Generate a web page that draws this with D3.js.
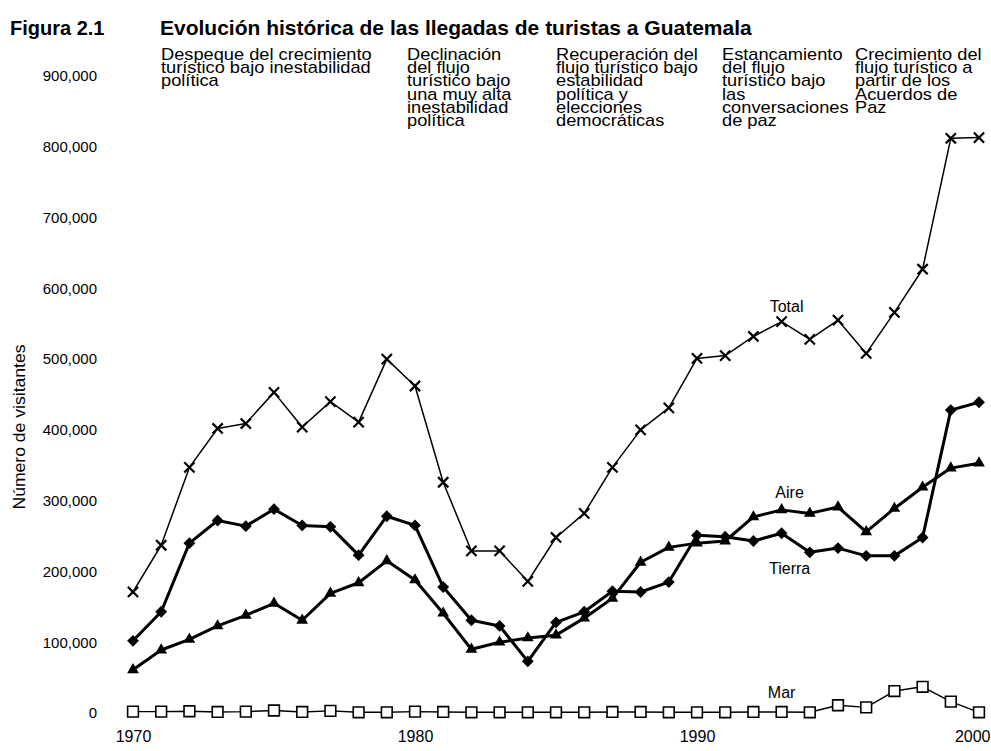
<!DOCTYPE html>
<html>
<head>
<meta charset="utf-8">
<script src="https://cdn.jsdelivr.net/npm/d3@7"></script>
<style>
  body { margin: 0; background: #fff; }
  svg text { font-family: "Liberation Sans", Arial, sans-serif; fill: #000; }
</style>
</head>
<body>
<div id="svganchor"></div>
<script>
/*
------------------------
DATA: arrivals by year (visitors)
------------------------
*/
var years = [1970, 1971, 1972, 1973, 1974, 1975, 1976, 1977, 1978, 1979,
  1980, 1981, 1982, 1983, 1984, 1985, 1986, 1987, 1988, 1989,
  1990, 1991, 1992, 1993, 1994, 1995, 1996, 1997, 1998, 1999, 2000];

var total = [171000, 237000, 347000, 402000, 409000, 453000, 404000, 440000, 411000, 500000,
  462000, 326000, 229000, 229000, 186000, 248000, 282000, 347000, 400000, 431000,
  501000, 505000, 532000, 553000, 528000, 555000, 508000, 566000, 627000, 812000, 813000];

var aire = [61000, 89000, 104000, 123000, 138000, 155000, 131000, 169000, 184000, 215000,
  188000, 141000, 90000, 100000, 106000, 110000, 134000, 162000, 213000, 234000,
  240000, 243000, 277000, 287000, 282000, 291000, 256000, 289000, 319000, 346000, 353000];

var tierra = [102000, 143000, 240000, 272000, 264000, 288000, 265000, 263000, 223000, 278000,
  265000, 178000, 131000, 123000, 73000, 128000, 143000, 172000, 171000, 185000,
  251000, 249000, 243000, 254000, 227000, 233000, 222000, 222000, 248000, 428000, 439000];

var mar = [2000, 2000, 2500, 1500, 2000, 3500, 1500, 3000, 1000, 1000,
  2000, 1500, 1000, 1000, 1000, 1000, 1000, 1500, 1500, 1000,
  1000, 1000, 1500, 1500, 1000, 11000, 8000, 31000, 37000, 16000, 1000];

var yTicks = [0, 100000, 200000, 300000, 400000, 500000, 600000, 700000, 800000, 900000];
var xTicks = [1970, 1980, 1990, 2000];

// the five period notes across the top
var periodNotes = [
  ["Despeque del crecimiento", "turístico bajo inestabilidad", "política"],
  ["Declinación", "del flujo", "turístico bajo", "una muy alta", "inestabilidad", "política"],
  ["Recuperación del", "flujo turístico bajo", "estabilidad", "política y", "elecciones", "democráticas"],
  ["Estancamiento", "del flujo", "turístico bajo", "las", "conversaciones", "de paz"],
  ["Crecimiento del", "flujo turístico a", "partir de los", "Acuerdos de", "Paz"]
];
var noteX = [161, 407, 556, 722, 855];

/*
------------------------
METHOD: set up the svg and the scales
------------------------
*/
var width = 991, height = 751;

var svg = d3.select("#svganchor")
  .append("svg")
  .attr("width", width)
  .attr("height", height);

svg.append("rect")
  .attr("width", width)
  .attr("height", height)
  .attr("fill", "#fff");

var x = d3.scaleLinear()
  .domain([1970, 2000])
  .range([133, 979]);

var y = d3.scaleLinear()
  .domain([0, 900000])
  .range([713, 76]);

// titles
svg.append("text")
  .attr("x", 10)
  .attr("y", 35)
  .style("font-size", "20px")
  .style("font-weight", "bold")
  .text("Figura 2.1");

svg.append("text")
  .attr("x", 160)
  .attr("y", 35)
  .style("font-size", "21px")
  .style("font-weight", "bold")
  .text("Evolución histórica de las llegadas de turistas a Guatemala");

// period notes: one text per note, lines as tspans (leading is very tight in the print)
periodNotes.forEach(function (lines, i) {
  var t = svg.append("text")
    .attr("transform", "translate(" + noteX[i] + ",60) scale(1.14,1)")
    .style("font-size", "16px");
  t.selectAll("tspan")
    .data(lines)
    .enter()
    .append("tspan")
    .attr("x", 0)
    .attr("y", function (d, j) { return j * 13.2; })
    .text(function (d) { return d; });
});

/*
------------------------
METHOD: axes (labels only, no lines)
------------------------
*/
svg.append("g")
  .attr("class", "y-axis")
  .attr("transform", "translate(97,0)")
  .call(d3.axisLeft(y)
    .tickValues(yTicks)
    .tickFormat(d3.format(","))
    .tickSize(0)
    .tickPadding(0))
  .call(function (g) { g.select(".domain").remove(); })
  .selectAll("text")
  .attr("font-family", null)
  .style("font-size", "15px");

var xAxis = svg.append("g")
  .attr("class", "x-axis")
  .attr("transform", "translate(0,731)")
  .call(d3.axisBottom(x)
    .tickValues(xTicks)
    .tickFormat(d3.format("d"))
    .tickSize(0)
    .tickPadding(0))
  .call(function (g) { g.select(".domain").remove(); });

xAxis.selectAll("text")
  .attr("font-family", null)
  .style("font-size", "16px");

// the last year label sits inside the right edge, as in the print
xAxis.selectAll(".tick")
  .filter(function (d) { return d === 2000; })
  .select("text")
  .attr("text-anchor", "end")
  .attr("x", 11);

svg.append("text")
  .attr("transform", "translate(25,427) rotate(-90) scale(1.1,1)")
  .attr("text-anchor", "middle")
  .style("font-size", "16px")
  .text("Número de visitantes");

/*
------------------------
METHOD: draw the four series
------------------------
*/
var series = [
  { name: "Total", values: total, lineWidth: 1.5 },
  { name: "Aire", values: aire, lineWidth: 3 },
  { name: "Tierra", values: tierra, lineWidth: 3 },
  { name: "Mar", values: mar, lineWidth: 1.4 }
];

var line = d3.line()
  .x(function (d, i) { return x(years[i]); })
  .y(function (d) { return y(d); });

svg.selectAll("myLines")
  .data(series)
  .enter()
  .append("path")
  .attr("d", function (d) { return line(d.values); })
  .attr("fill", "none")
  .attr("stroke", "#000")
  .attr("stroke-width", function (d) { return d.lineWidth; })
  .attr("stroke-linejoin", "round");

function points(values) {
  return values.map(function (v, i) { return { year: years[i], value: v }; });
}

// Total: crosses
svg.append("g")
  .selectAll("path")
  .data(points(total))
  .enter()
  .append("path")
  .attr("transform", function (d) { return "translate(" + x(d.year) + "," + y(d.value) + ")"; })
  .attr("d", d3.symbol().type(d3.symbolX).size(70))
  .attr("fill", "none")
  .attr("stroke", "#000")
  .attr("stroke-width", 2.2);

// Aire: triangles
svg.append("g")
  .selectAll("path")
  .data(points(aire))
  .enter()
  .append("path")
  .attr("transform", function (d) { return "translate(" + x(d.year) + "," + y(d.value) + ")"; })
  .attr("d", d3.symbol().type(d3.symbolTriangle).size(60))
  .attr("fill", "#000");

// Tierra: diamonds
svg.append("g")
  .selectAll("path")
  .data(points(tierra))
  .enter()
  .append("path")
  .attr("transform", function (d) { return "translate(" + x(d.year) + "," + y(d.value) + ") rotate(45)"; })
  .attr("d", d3.symbol().type(d3.symbolSquare).size(70))
  .attr("fill", "#000");

// Mar: open squares
svg.append("g")
  .selectAll("path")
  .data(points(mar))
  .enter()
  .append("path")
  .attr("transform", function (d) { return "translate(" + x(d.year) + "," + y(d.value) + ")"; })
  .attr("d", d3.symbol().type(d3.symbolSquare).size(115))
  .attr("fill", "#fff")
  .attr("stroke", "#000")
  .attr("stroke-width", 1.6);

/*
------------------------
METHOD: series names, hung off the 1993 point of each line
------------------------
*/
var labelOffsets = { Total: [5, -10], Aire: [8, -12], Tierra: [8, 41], Mar: [0, -14] };
var labelIndex = years.indexOf(1993);

svg.selectAll("myLabels")
  .data(series)
  .enter()
  .append("text")
  .attr("x", function (d) { return x(years[labelIndex]) + labelOffsets[d.name][0]; })
  .attr("y", function (d) { return y(d.values[labelIndex]) + labelOffsets[d.name][1]; })
  .attr("text-anchor", "middle")
  .style("font-size", "16px")
  .text(function (d) { return d.name; });
</script>
</body>
</html>
